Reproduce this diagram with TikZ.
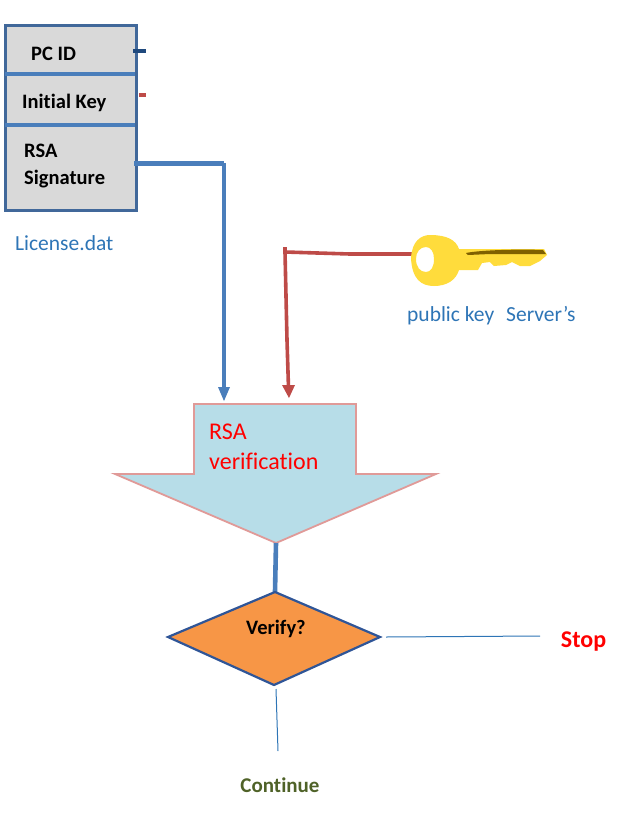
\documentclass[tikz,border=0pt]{standalone}
\usepackage{fontspec}
\setmainfont{Carlito}[Ligatures=NoCommon]
\definecolor{bluel}{HTML}{4A7EBB}
\definecolor{darkb}{HTML}{1F497D}
\definecolor{redl}{HTML}{BE4B48}
\definecolor{boxg}{HTML}{D9D9D9}
\definecolor{boxb}{HTML}{41689A}
\definecolor{ltblue}{HTML}{B7DDE8}
\definecolor{pinkl}{HTML}{E09A98}
\definecolor{orangef}{HTML}{F79646}
\definecolor{diab}{HTML}{2F5597}
\definecolor{keyy}{HTML}{FFDC3C}
\definecolor{keyd}{HTML}{7F6000}
\definecolor{txtb}{HTML}{2E75B6}
\definecolor{contg}{HTML}{4F6228}
\tikzset{
  x=1pt,y=-1pt,
  lab/.style={inner sep=0pt,anchor=west,font=\fontsize{20.5}{24}\selectfont\bfseries,text=black},
  bluetxt/.style={inner sep=0pt,anchor=base west,font=\fontsize{21.5}{24}\selectfont,text=txtb},
  thinline/.style={draw=txtb,line width=1pt},
  thick blue/.style={draw=bluel,line width=4.4pt},
  cellbox/.style={draw=boxb,line width=3pt,fill=boxg,rectangle,inner sep=0pt,anchor=north west}
}
\begin{document}
\begin{tikzpicture}
\useasboundingbox (0,0) rectangle (639,815);
% licence box
\node[cellbox,minimum width=131pt,minimum height=185.5pt] (lic) at (4,23.5) {};
\coordinate (d1l) at (5,74); \coordinate (d1r) at (135,74);
\coordinate (d2l) at (5,125); \coordinate (d2r) at (135,125);
\draw[draw=bluel,line width=3.6pt] (d1l) -- (d1r);
\draw[draw=bluel,line width=3.6pt] (d2l) -- (d2r);
\node[lab] (pcid) at (31,54) {PC ID};
\node[lab] (ikey) at (22,103) {Initial Key};
\node[lab,align=left,font=\fontsize{20.5}{27}\selectfont\bfseries] (rsa) at (24,166.5) {RSA\\Signature};
\node[bluetxt] (licn) at (15,250) {License.dat};
% stubs
\coordinate (s1a) at (133,51); \coordinate (s1b) at (146,51);
\coordinate (s2a) at (139,95); \coordinate (s2b) at (146,95);
\draw[draw=darkb,line width=3.4pt] (s1a) -- (s1b);
\draw[draw=redl,line width=3.4pt] (s2a) -- (s2b);
% blue connector
\coordinate (b0) at (134,163); \coordinate (b1) at (224,163); \coordinate (b2) at (224,390);
\draw[thick blue,line join=round,line width=5pt] (b0) -- (b1);
\draw[thick blue] (b1) -- (b2);
\fill[bluel] (218,387) -- (230,387) -- (224,401) -- cycle;
% red connector
\coordinate (r0) at (412,254); \coordinate (r1) at (285,252); \coordinate (r2) at (285,247); \coordinate (r3) at (288.5,388);
\draw[draw=redl,line width=3.6pt] (r0) -- (350,254) -- (r1);
\draw[draw=redl,line width=3.6pt] (r2) -- (285,252) -- (287,340) -- (r3);
\fill[redl] (282,385) -- (295,385) -- (289,398) -- cycle;
% block arrow
\path[fill=ltblue,draw=pinkl,line width=1.8pt] (194,404) -- (356,404) -- (356,474) -- (436,474) -- (276,543) -- (115,474) -- (194,474) -- cycle;
\node[inner sep=0pt,anchor=west,align=left,font=\fontsize{24}{30}\selectfont,text=red] (ver) at (209,447) {RSA\\verification};
% diamond
\coordinate (dt) at (275,592); \coordinate (dr) at (380,637); \coordinate (db) at (274,685); \coordinate (dl) at (168,637);
\coordinate (arrtip) at (276,543);
\draw[draw=bluel,line width=4.6pt] (arrtip) -- (dt);
\path[fill=orangef,draw=diab,line width=2.2pt] (dt) -- (dr) -- (db) -- (dl) -- cycle;
\node[inner sep=0pt,font=\fontsize{20.5}{24}\selectfont\bfseries,text=black] (vy) at (276,629) {Verify?};
% outputs
\node[inner sep=0pt,font=\fontsize{24}{26}\selectfont\bfseries,text=red] (stop) at (583.5,641.5) {Stop};
\node[inner sep=0pt,font=\fontsize{21}{24}\selectfont\bfseries,text=contg] (cont) at (280,785) {Continue};
\coordinate (st) at (540,636); \coordinate (sf) at (386,637);
\coordinate (ct) at (278,751); \coordinate (cf) at (276,689);
\draw[thinline] (sf) -- (st);
\draw[thinline] (cf) -- (ct);
% key
\path[fill=keyy,even odd rule]
  (430,235) .. controls (421,235) and (412,241) .. (411,258)
  .. controls (412,279) and (421,286) .. (434,286)
  .. controls (447,286) and (456,280) .. (459,270)
  -- (478,270) -- (482,263) -- (490,262) -- (494,266) -- (506,265) -- (512,262) -- (520,266) -- (530,266) -- (540,261) -- (547,255) -- (544,249)
  -- (459,249)
  .. controls (456,240) and (447,235) .. (430,235) -- cycle
  (426,247) .. controls (420,247) and (416,252) .. (416,259)
  .. controls (416,267) and (420,272) .. (426,272)
  .. controls (431,272) and (434,267) .. (434,259)
  .. controls (434,252) and (431,247) .. (426,247) -- cycle;
\fill[keyd] (466,253) .. controls (480,250) and (520,249) .. (543,250) -- (546,254) -- (490,254) -- (468,255) -- cycle;
\node[bluetxt] (pub) at (407,321) {public key};
\node[bluetxt] (srv) at (506,321) {Server’s};
\end{tikzpicture}
\end{document}
